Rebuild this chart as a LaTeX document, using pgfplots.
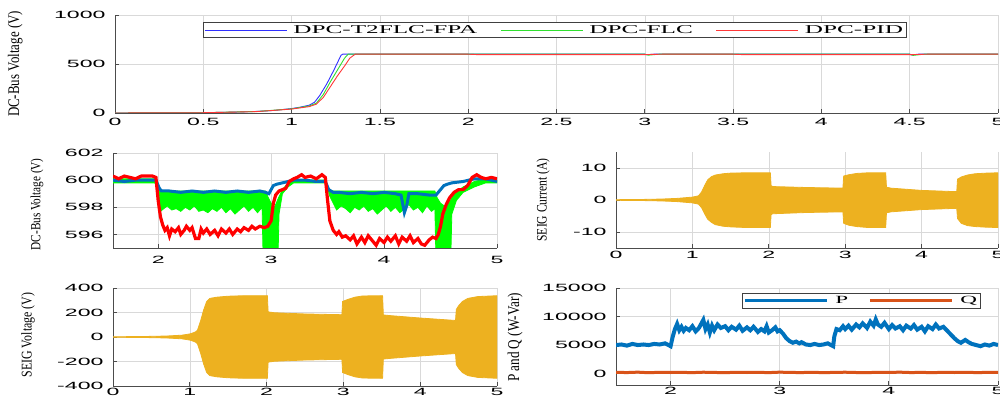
\documentclass[border=0pt]{standalone}
\usepackage{fontspec}
\setmainfont{Liberation Serif}
\newfontfamily\ticksf{Liberation Sans}
\usepackage{graphicx}
\usepackage{xcolor}
\usepackage{pgfplots}
\pgfplotsset{compat=1.18}
\definecolor{mblue}{HTML}{0072BD}
\definecolor{mred}{HTML}{D95319}
\definecolor{myel}{HTML}{EDB120}
\definecolor{tblue}{HTML}{3030FF}
\definecolor{tgreen}{HTML}{30E030}
\definecolor{tred}{HTML}{FF3838}
% y label stretched to a given length along its run
\newcommand{\ylab}[2]{\resizebox{#1}{!}{\fontsize{14}{16}\selectfont\scalebox{0.8}[1]{#2}}}
\pgfplotsset{
  panel/.style={
    scale only axis, anchor=south west,
    axis x line*=bottom, axis y line*=left,
    axis line style={-, draw=black!70, line width=0.9pt},
    tick align=inside, major tick length=4pt,
    tick style={draw=black!70, line width=0.8pt},
    grid=major, grid style={draw=black!15, line width=0.6pt},
    scaled ticks=false,
    /pgf/number format/assume math mode=true,
    /pgf/number format/1000 sep={},
    tick label style={font=\ticksf\fontsize{10.5}{12}\selectfont},
    xticklabel={\scalebox{2.2}[1]{\pgfmathprintnumber{\tick}}},
    yticklabel={\scalebox{2.2}[1]{\pgfmathprintnumber{\tick}}},
    yticklabel style={xshift=-6pt},
    ylabel style={anchor=center},
  }
}
\begin{document}
\begin{tikzpicture}
\path[use as bounding box] (0pt,0pt) rectangle (1000pt,401pt);

% top: DC bus voltage, full run
\begin{axis}[panel, at={(115pt,288pt)}, width=883pt, height=98pt,
  xmin=0, xmax=5, ymin=0, ymax=1000,
  xtick={0,0.5,...,5}, ytick={0,500,1000},
  xticklabel style={yshift=-1.5pt},
  ylabel={\ylab{106pt}{DC-Bus Voltage (V)}},
  ylabel style={at={(axis description cs:-0.113,0.5)}},
  legend columns=3, legend cell align=left,
  legend image code/.code={\draw[#1,line width=1pt] (0pt,0pt) -- (82pt,0pt);},
  legend style={at={(axis description cs:0.0997,0.929)}, anchor=north west,
    draw=black!75, line width=0.7pt, inner sep=1pt,
    font=\fontsize{12}{13}\selectfont,
    /tikz/every odd column/.append style={column sep=4pt},
    /tikz/every even column/.append style={column sep=21pt}}]
\addplot[tblue, line width=0.9pt] coordinates {(0,0) (0.5,3) (0.7,10) (0.8,16) (0.9,26) (1.0,45) (1.05,60) (1.1,80) (1.13,110) (1.16,180) (1.2,300) (1.24,440) (1.28,590) (1.29,600) (3.0,600) (3.01,595) (3.05,600) (4.5,600) (4.51,592) (4.55,600) (5,600)};
\addlegendentry{\scalebox{2.1}[1]{DPC-T2FLC-FPA}}
\addplot[tgreen, line width=0.9pt] coordinates {(0,0) (0.5,3) (0.8,15) (1.0,42) (1.1,72) (1.14,100) (1.18,190) (1.22,320) (1.26,440) (1.3,560) (1.32,600) (3.0,600) (3.02,590) (3.08,600) (4.5,600) (4.52,588) (4.58,600) (5,600)};
\addlegendentry{\scalebox{2.1}[1]{DPC-FLC}}
\addplot[tred, line width=0.9pt] coordinates {(0,0) (0.5,3) (0.8,14) (1.0,40) (1.1,65) (1.14,90) (1.18,160) (1.22,270) (1.26,380) (1.3,480) (1.33,560) (1.36,600) (2.0,600) (2.05,596) (3.0,596) (3.1,600) (3.5,600) (3.55,596) (4.5,595) (4.6,600) (5,600)};
\addlegendentry{\scalebox{2.1}[1]{DPC-PID}}
\end{axis}

% middle left: DC bus voltage, zoom
\begin{axis}[panel, at={(113pt,153pt)}, width=384pt, height=95pt,
  xmin=1.6, xmax=5, ymin=595, ymax=602,
  xtick={2,3,4,5}, ytick={596,598,600,602},
  xticklabel style={yshift=-5pt},
  ylabel={\ylab{92pt}{DC-Bus Voltage (V)}},
  ylabel style={at={(axis description cs:-0.198,0.46)}}]
\addplot[draw=green, fill=green, line width=0.8pt] coordinates {
(1.6,600.1) (1.97,600.1) (2.0,599.6) (2.02,599.2) (2.95,599.2) (2.97,598.8) (3.0,598.3) (3.03,598.0) (3.06,598.6) (3.1,599.3) (3.15,599.8) (3.2,600.0) (3.48,600.0) (3.5,599.6) (3.52,599.2) (4.45,599.2) (4.47,598.7) (4.5,598.3) (4.55,598.0) (4.58,598.4) (4.62,599.0) (4.7,599.5) (4.8,599.9) (4.9,600.1) (5.0,600.0)
(5.0,599.8) (4.9,599.8) (4.8,599.5) (4.7,599.1) (4.64,598.5) (4.6,597.5) (4.59,594) (4.46,594) (4.45,597.9) (4.42,597.7) (4.38,598.1) (4.34,597.6) (4.3,598.0) (4.26,597.8) (4.22,598.2) (4.18,597.9) (4.14,597.6) (4.1,598.0) (4.06,597.7) (4.02,598.1) (3.98,597.8) (3.94,597.5) (3.9,597.9) (3.86,597.7) (3.82,598.1) (3.78,597.8) (3.74,598.0) (3.7,597.6) (3.66,597.9) (3.62,598.1) (3.58,597.8) (3.55,598.3) (3.52,598.8) (3.5,599.4) (3.48,599.8) (3.2,599.8) (3.15,599.5) (3.1,599.0) (3.07,597.5) (3.06,594) (2.93,594) (2.92,598.0) (2.88,597.6) (2.84,598.0) (2.8,597.7) (2.76,598.1) (2.72,597.8) (2.68,597.5) (2.64,597.9) (2.6,597.6) (2.56,598.0) (2.52,597.7) (2.48,597.9) (2.44,597.6) (2.4,597.8) (2.36,597.7) (2.32,598.1) (2.28,597.8) (2.24,598.0) (2.2,597.7) (2.16,597.9) (2.12,597.8) (2.08,598.1) (2.05,597.9) (2.02,597.7) (2.01,598.8) (2.0,599.4) (1.97,599.8) (1.6,599.8) (1.6,600.1)};
\addplot[mblue, line width=3pt] coordinates {
(1.6,600.0) (1.7,599.9) (1.8,600.0) (1.9,600.0) (1.98,600.0) (2.01,599.4) (2.03,599.2) (2.1,599.2) (2.2,599.1) (2.3,599.2) (2.4,599.1) (2.5,599.2) (2.6,599.1) (2.7,599.2) (2.8,599.1) (2.9,599.2) (2.95,599.1) (2.98,599.0) (3.0,599.3) (3.02,599.6) (3.05,599.7) (3.1,599.8) (3.15,599.9) (3.2,600.0) (3.3,600.0) (3.4,599.9) (3.48,599.9) (3.51,599.3) (3.55,599.1) (3.6,599.1) (3.7,599.0) (3.8,599.1) (3.9,599.0) (4.0,599.1) (4.1,599.0) (4.15,598.9) (4.18,597.6) (4.2,598.1) (4.22,599.0) (4.3,599.0) (4.4,598.9) (4.46,598.9) (4.5,599.3) (4.53,599.6) (4.56,599.7) (4.6,599.8) (4.7,599.9) (4.8,600.1) (4.9,600.1) (5.0,599.9)};
\addplot[red, line width=3.2pt] coordinates {
(1.6,600.3) (1.65,600.1) (1.7,600.3) (1.75,600.2) (1.8,600.1) (1.85,600.3) (1.9,600.3) (1.95,600.3) (1.98,600.2) (2.0,598.5) (2.02,597.3) (2.04,596.7) (2.06,596.3) (2.08,596.5) (2.1,595.9) (2.12,596.4) (2.15,596.2) (2.18,596.5) (2.2,596.0) (2.23,596.3) (2.25,596.6) (2.28,596.3) (2.3,596.5) (2.33,595.7) (2.36,595.7) (2.38,596.4) (2.4,596.1) (2.43,596.4) (2.46,596.0) (2.5,596.3) (2.53,595.9) (2.56,596.4) (2.6,596.1) (2.63,596.4) (2.66,596.0) (2.7,596.4) (2.73,596.2) (2.76,596.5) (2.8,596.3) (2.83,596.6) (2.86,596.4) (2.9,596.6) (2.94,596.5) (2.97,596.6) (3.0,597.0) (3.02,598.3) (3.04,598.9) (3.07,599.2) (3.1,599.3) (3.13,599.4) (3.16,599.9) (3.2,600.1) (3.23,600.2) (3.27,600.4) (3.3,600.2) (3.35,600.3) (3.4,600.1) (3.45,600.4) (3.48,600.2) (3.5,598.5) (3.52,597.0) (3.55,596.3) (3.58,596.0) (3.6,596.2) (3.63,595.8) (3.66,595.9) (3.7,595.6) (3.73,595.9) (3.76,595.3) (3.8,595.8) (3.83,595.4) (3.86,595.9) (3.9,595.5) (3.93,595.2) (3.96,595.7) (4.0,595.4) (4.03,595.8) (4.06,595.5) (4.1,595.9) (4.13,595.3) (4.16,595.8) (4.2,595.5) (4.23,595.9) (4.26,595.4) (4.3,595.7) (4.33,595.3) (4.36,595.2) (4.4,595.6) (4.43,595.8) (4.46,595.7) (4.48,596.0) (4.5,596.6) (4.52,597.5) (4.55,598.2) (4.58,598.7) (4.62,599.1) (4.66,599.3) (4.7,599.3) (4.74,599.6) (4.78,600.2) (4.82,600.4) (4.86,600.2) (4.9,600.1) (4.95,600.2) (5.0,600.1)};
\end{axis}

% middle right: SEIG current
\begin{axis}[panel, at={(616pt,153pt)}, width=382pt, height=96pt,
  xmin=0, xmax=5, ymin=-15, ymax=15,
  xtick={0,1,...,5}, ytick={-10,0,10},
  xticklabel style={yshift=0pt},
  ylabel={\ylab{83pt}{SEIG Current (A)}},
  ylabel style={at={(axis description cs:-0.191,0.5)}}]
\addplot[draw=myel, fill=myel, line width=0.8pt] coordinates {
(0,0.1) (0.3,0.15) (0.6,0.3) (0.8,0.5) (1.0,0.9) (1.08,1.3) (1.12,2.5) (1.16,4.5) (1.2,6.3) (1.25,7.3) (1.3,7.8) (1.4,8.2) (1.5,8.4) (1.7,8.5) (2.02,8.5) (2.03,4.5) (2.05,4.2) (2.5,3.9) (2.97,3.7) (2.98,7.5) (3.05,7.9) (3.15,8.3) (3.3,8.5) (3.53,8.5) (3.54,4.0) (3.6,3.7) (4.0,3.0) (4.46,2.6) (4.47,6.5) (4.52,7.2) (4.6,7.8) (4.7,8.2) (4.85,8.4) (5.0,8.5)
(5.0,-8.6) (4.85,-8.5) (4.7,-8.3) (4.6,-8.0) (4.52,-7.3) (4.47,-5.8) (4.46,-2.6) (4.0,-3.0) (3.6,-3.7) (3.54,-4.0) (3.53,-8.6) (3.3,-8.6) (3.15,-8.3) (3.05,-7.9) (2.98,-7.3) (2.97,-3.7) (2.5,-3.9) (2.05,-4.3) (2.03,-4.6) (2.02,-8.6) (1.7,-8.6) (1.5,-8.4) (1.4,-8.2) (1.3,-7.7) (1.25,-7.0) (1.2,-6.0) (1.16,-4.3) (1.12,-2.4) (1.08,-1.3) (1.0,-0.9) (0.8,-0.5) (0.6,-0.3) (0.3,-0.15) (0,-0.1) (0,0.1)};
\end{axis}

% bottom left: SEIG voltage
\begin{axis}[panel, at={(113pt,15pt)}, width=384pt, height=98pt,
  xmin=0, xmax=5, ymin=-400, ymax=400,
  xtick={0,1,...,5}, ytick={-400,-200,...,400},
  xticklabel style={yshift=1pt},
  ylabel={\ylab{85pt}{SEIG Voltage (V)}},
  ylabel style={at={(axis description cs:-0.221,0.52)}}]
\addplot[draw=myel, fill=myel, line width=0.8pt] coordinates {
(0,2) (0.4,4) (0.7,8) (0.9,15) (1.0,25) (1.07,40) (1.1,55) (1.14,130) (1.18,220) (1.22,290) (1.26,315) (1.35,325) (1.5,333) (1.7,337) (2.01,337) (2.02,205) (2.1,198) (2.5,188) (2.98,182) (2.99,290) (3.05,305) (3.15,325) (3.25,335) (3.51,337) (3.52,180) (3.6,175) (4.0,155) (4.46,135) (4.47,225) (4.5,255) (4.55,290) (4.62,315) (4.75,330) (5.0,337)
(5.0,-337) (4.75,-330) (4.62,-315) (4.55,-290) (4.5,-255) (4.47,-225) (4.46,-135) (4.0,-155) (3.6,-175) (3.52,-180) (3.51,-337) (3.25,-335) (3.15,-325) (3.05,-305) (2.99,-290) (2.98,-182) (2.5,-188) (2.1,-198) (2.02,-205) (2.01,-337) (1.7,-337) (1.5,-333) (1.35,-325) (1.26,-315) (1.22,-290) (1.18,-220) (1.14,-130) (1.1,-55) (1.07,-40) (1.0,-25) (0.9,-15) (0.7,-8) (0.4,-4) (0,-2) (0,2)};
\end{axis}

% bottom right: P and Q
\begin{axis}[panel, at={(616pt,16pt)}, width=382pt, height=97pt,
  xmin=1.5, xmax=5, ymin=-2000, ymax=15000,
  xtick={2,3,4,5}, ytick={0,5000,10000,15000},
  xticklabel style={yshift=1pt},
  ylabel={\ylab{89pt}{P and Q (W-Var)}},
  ylabel style={at={(axis description cs:-0.264,0.49)}},
  legend columns=2, legend cell align=left,
  legend image code/.code={\draw[#1,line width=3pt] (0pt,0pt) -- (82pt,0pt);},
  legend style={at={(axis description cs:0.33,0.948)}, anchor=north west,
    draw=black!75, line width=0.7pt, inner sep=1pt,
    font=\fontsize{11}{12}\selectfont,
    /tikz/every odd column/.append style={column sep=5pt},
    /tikz/every even column/.append style={column sep=18pt}}]
\addplot[mblue, line width=4pt] coordinates {
(1.5,5000) (1.55,5100) (1.6,4900) (1.65,5200) (1.7,5000) (1.75,5100) (1.8,5000) (1.85,5200) (1.9,5100) (1.95,5300) (1.98,5000) (2.0,4800) (2.02,6500) (2.04,7800) (2.06,8700) (2.08,7600) (2.1,8200) (2.12,7500) (2.14,8000) (2.17,7600) (2.2,8300) (2.23,7400) (2.26,8000) (2.28,8700) (2.3,9400) (2.32,7800) (2.34,8600) (2.36,7200) (2.38,8400) (2.4,7600) (2.43,8600) (2.46,8000) (2.5,8300) (2.53,7600) (2.56,8200) (2.6,7700) (2.63,8400) (2.66,7500) (2.7,8100) (2.73,7600) (2.76,8200) (2.8,7300) (2.83,7800) (2.86,7400) (2.88,8300) (2.9,7200) (2.93,7600) (2.96,8100) (2.98,7400) (3.0,7600) (3.03,7000) (3.06,6200) (3.09,5700) (3.12,5400) (3.15,5600) (3.18,5300) (3.2,5500) (3.24,5100) (3.28,5000) (3.32,5200) (3.36,5000) (3.4,5100) (3.44,5300) (3.47,5000) (3.49,4800) (3.5,6500) (3.52,7800) (3.55,7600) (3.58,8300) (3.6,7800) (3.63,8400) (3.66,7700) (3.7,8600) (3.73,8100) (3.76,8800) (3.8,8000) (3.83,9100) (3.86,8400) (3.88,9500) (3.9,8600) (3.93,8200) (3.96,8900) (4.0,7800) (4.03,8500) (4.06,7900) (4.1,8300) (4.13,7600) (4.16,8400) (4.2,7900) (4.23,8500) (4.26,7700) (4.3,8200) (4.33,7400) (4.36,8300) (4.4,7800) (4.43,8600) (4.46,7900) (4.5,8200) (4.53,7600) (4.56,7000) (4.6,6200) (4.63,5700) (4.66,5400) (4.7,5900) (4.73,5500) (4.76,5200) (4.8,5000) (4.84,4800) (4.88,5100) (4.92,4900) (4.96,5200) (5.0,5000)};
\addlegendentry{\scalebox{2.1}[1]{P}}
\addplot[mred, line width=3pt] coordinates {
(1.5,220) (1.6,180) (1.7,250) (1.8,150) (1.9,230) (2.0,190) (2.1,210) (2.2,170) (2.3,240) (2.4,200) (2.5,160) (2.6,230) (2.7,190) (2.8,220) (2.9,170) (3.0,250) (3.1,200) (3.2,180) (3.3,230) (3.4,160) (3.5,210) (3.6,240) (3.7,190) (3.8,170) (3.9,220) (4.0,200) (4.1,250) (4.2,180) (4.3,210) (4.4,160) (4.5,230) (4.6,190) (4.7,220) (4.8,180) (4.9,200) (5.0,210)};
\addlegendentry{\scalebox{2.1}[1]{Q}}
\end{axis}
\end{tikzpicture}
\end{document}
